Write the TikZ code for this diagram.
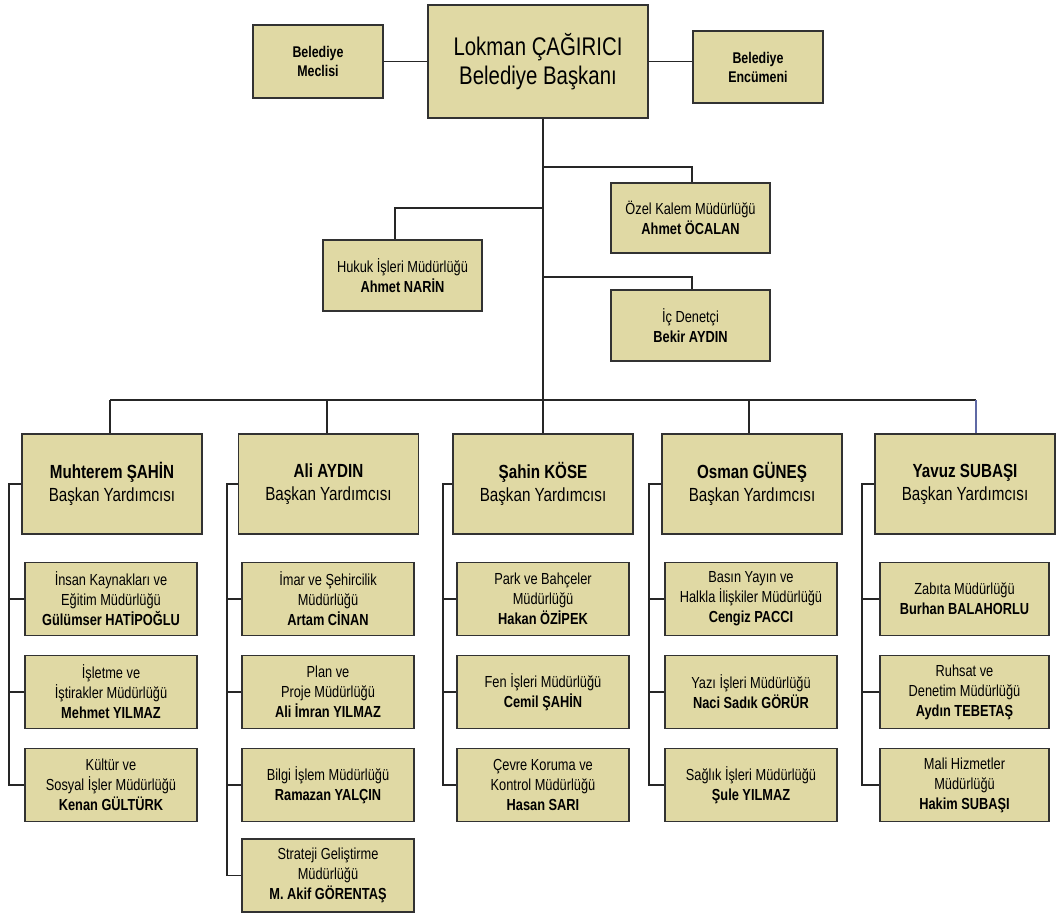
\documentclass[tikz,border=0pt]{standalone}
\usepackage{fontspec}
\setmainfont{Liberation Sans}[FakeStretch=0.8]
\definecolor{boxfill}{RGB}{224,217,164}
\definecolor{boxline}{RGB}{50,50,50}
\definecolor{bluish}{RGB}{95,105,165}
\begin{document}
\begin{tikzpicture}[x=1pt,y=-1pt,
  box/.style={draw=boxline, line width=1.3pt, fill=boxfill, align=center, inner sep=0pt, text=black},
  small/.style={box, minimum width=130pt, minimum height=72pt, font=\fontsize{15.5}{19}\selectfont\bfseries},
  chief/.style={box, minimum width=220pt, minimum height=113pt, font=\fontsize{25.5}{29}\selectfont},
  staff/.style={box, minimum width=159pt, minimum height=71pt, font=\fontsize{16}{20}\selectfont},
  vp/.style={box, minimum width=180pt, minimum height=100pt, font=\fontsize{19}{23}\selectfont},
  sub/.style={box, minimum width=172pt, minimum height=73pt, font=\fontsize{16}{20}\selectfont},
  conn/.style={line width=1.2pt, draw=black!85}]
\useasboundingbox (0,0) rectangle (1056,916);

% top level
\node[chief] (mayor) at (538,61.5) {Lokman ÇAĞIRICI\\Belediye Başkanı};
\node[small, minimum height=73pt] (meclis) at (318,61.5) {Belediye\\Meclisi};
\node[small] (encumen) at (758,67) {Belediye\\Encümeni};
\draw[conn] (meclis.east) -- (meclis.east -| mayor.west);
\draw[conn] (mayor.east) -- (mayor.east -| encumen.west);

% staff units
\node[staff, minimum height=70pt] (ozel) at (690.5,218) {Özel Kalem Müdürlüğü\\\textbf{Ahmet ÖCALAN}};
\node[staff] (hukuk) at (402.5,275.5) {Hukuk İşleri Müdürlüğü\\\textbf{Ahmet NARİN}};
\node[staff] (icden) at (690.5,325.5) {İç Denetçi\\\textbf{Bekir AYDIN}};

\coordinate (trunktop) at ([xshift=5pt]mayor.south);
\coordinate (bus) at (543,400);
\draw[conn] (trunktop) -- (bus);
\coordinate (b1) at (543,167);
\coordinate (b2) at (543,208);
\coordinate (b3) at (543,277);
\draw[conn] (b1) -| ([xshift=1.5pt]ozel.north);
\draw[conn] (b2) -| ([xshift=-7.5pt]hukuk.north);
\draw[conn] (b3) -| ([xshift=1.5pt]icden.north);

% deputy mayors
\node[vp] (vp1) at (112,484) {\textbf{Muhterem ŞAHİN}\\Başkan Yardımcısı};
\node[vp] (vp2) at (328.5,484) {\textbf{Ali AYDIN}\\Başkan Yardımcısı};
\node[vp] (vp3) at (543,484) {\textbf{Şahin KÖSE}\\Başkan Yardımcısı};
\node[vp] (vp4) at (752,484) {\textbf{Osman GÜNEŞ}\\Başkan Yardımcısı};
\node[vp] (vp5) at (965,484) {\textbf{Yavuz SUBAŞI}\\Başkan Yardımcısı};

\coordinate (d1) at (110,400);
\coordinate (d2) at (327,400);
\coordinate (d3) at (543,400);
\coordinate (d4) at (749,400);
\coordinate (d5) at (976,400);
\draw[conn] (d1) -- (d5);
\draw[conn] (d1) -- (d1 |- vp1.north);
\draw[conn] (d2) -- (d2 |- vp2.north);
\draw[conn] (d3) -- (d3 |- vp3.north);
\draw[conn] (d4) -- (d4 |- vp4.north);
\draw[conn, draw=bluish] (d5) -- (d5 |- vp5.north);

% column 1
\node[sub] (c1a) at (111,599) {İnsan Kaynakları ve\\Eğitim Müdürlüğü\\\textbf{Gülümser HATİPOĞLU}};
\node[sub] (c1b) at (111,692) {İşletme ve\\İştirakler Müdürlüğü\\\textbf{Mehmet YILMAZ}};
\node[sub] (c1c) at (111,785) {Kültür ve\\Sosyal İşler Müdürlüğü\\\textbf{Kenan GÜLTÜRK}};
% column 2
\node[sub] (c2a) at (328,599) {İmar ve Şehircilik\\Müdürlüğü\\\textbf{Artam CİNAN}};
\node[sub] (c2b) at (328,692) {Plan ve\\Proje Müdürlüğü\\\textbf{Ali İmran YILMAZ}};
\node[sub] (c2c) at (328,785) {Bilgi İşlem Müdürlüğü\\\textbf{Ramazan YALÇIN}};
\node[sub] (c2d) at (328,875.5) {Strateji Geliştirme\\Müdürlüğü\\\textbf{M. Akif GÖRENTAŞ}};
% column 3
\node[sub] (c3a) at (543,599) {Park ve Bahçeler\\Müdürlüğü\\\textbf{Hakan ÖZİPEK}};
\node[sub] (c3b) at (543,692) {Fen İşleri Müdürlüğü\\\textbf{Cemil ŞAHİN}};
\node[sub] (c3c) at (543,785) {Çevre Koruma ve\\Kontrol Müdürlüğü\\\textbf{Hasan SARI}};
% column 4
\node[sub] (c4a) at (751,599) {Basın Yayın ve\\Halkla İlişkiler Müdürlüğü\\\textbf{Cengiz PACCI}};
\node[sub] (c4b) at (751,692) {Yazı İşleri Müdürlüğü\\\textbf{Naci Sadık GÖRÜR}};
\node[sub] (c4c) at (751,785) {Sağlık İşleri Müdürlüğü\\\textbf{Şule YILMAZ}};
% column 5
\node[sub, minimum width=169pt] (c5a) at (964.5,599) {Zabıta Müdürlüğü\\\textbf{Burhan BALAHORLU}};
\node[sub, minimum width=169pt] (c5b) at (964.5,692) {Ruhsat ve\\Denetim Müdürlüğü\\\textbf{Aydın TEBETAŞ}};
\node[sub, minimum width=169pt] (c5c) at (964.5,785) {Mali Hizmetler\\Müdürlüğü\\\textbf{Hakim SUBAŞI}};

% spines
\coordinate (s1) at (9,484);
\coordinate (s2) at (227,484);
\coordinate (s3) at (443,484);
\coordinate (s4) at (649,484);
\coordinate (s5) at (862,484);

\draw[conn] (vp1.west) -- (s1) -- (s1 |- c1c.west) -- (c1c.west);
\draw[conn] (s1 |- c1a.west) -- (c1a.west);
\draw[conn] (s1 |- c1b.west) -- (c1b.west);

\draw[conn] (vp2.west) -- (s2) -- (s2 |- c2d.west) -- (c2d.west);
\draw[conn] (s2 |- c2a.west) -- (c2a.west);
\draw[conn] (s2 |- c2b.west) -- (c2b.west);
\draw[conn] (s2 |- c2c.west) -- (c2c.west);

\draw[conn] (vp3.west) -- (s3) -- (s3 |- c3c.west) -- (c3c.west);
\draw[conn] (s3 |- c3a.west) -- (c3a.west);
\draw[conn] (s3 |- c3b.west) -- (c3b.west);

\draw[conn] (vp4.west) -- (s4) -- (s4 |- c4c.west) -- (c4c.west);
\draw[conn] (s4 |- c4a.west) -- (c4a.west);
\draw[conn] (s4 |- c4b.west) -- (c4b.west);

\draw[conn] (vp5.west) -- (s5) -- (s5 |- c5c.west) -- (c5c.west);
\draw[conn] (s5 |- c5a.west) -- (c5a.west);
\draw[conn] (s5 |- c5b.west) -- (c5b.west);
\end{tikzpicture}
\end{document}
